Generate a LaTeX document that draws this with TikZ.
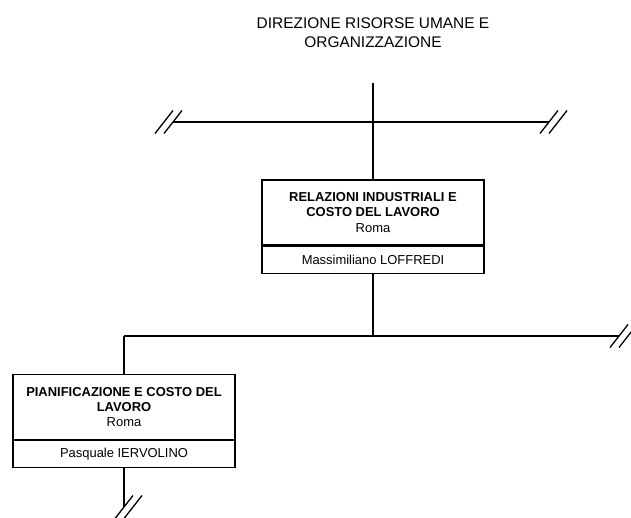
\documentclass[tikz,border=0pt]{standalone}
\usepackage{fontspec}
\setmainfont{Liberation Sans}
\usetikzlibrary{positioning}

\begin{document}
\begin{tikzpicture}[x=1bp, y=-1bp,
  title/.style={align=center, inner sep=0pt, font=\fontsize{15.5}{19}\selectfont},
  unit/.style={draw, line width=1.1bp, minimum width=222bp, minimum height=65bp,
               inner sep=0pt, align=center, font=\fontsize{13}{15.5}\selectfont},
  unitname/.style={draw, line width=1.1bp, minimum width=222bp, minimum height=27bp,
                   inner sep=0pt, font=\fontsize{13}{15.5}\selectfont},
  link/.style={line width=1.6bp},
  cut/.pic={\draw[line width=1.3bp] (-9,11.5) -- (9,-11.5);
            \draw[line width=1.3bp] (0,11.5) -- (18,-11.5);}]

\useasboundingbox (0,0) rectangle (631,518);

% --- Top: direction ---
\node[title] (dir) at (373,33) {DIREZIONE RISORSE UMANE E\\ORGANIZZAZIONE};
\coordinate (top) at (373,83);
\coordinate (busAw) at (173,122);
\coordinate (busAe) at (549,122);

% --- Relazioni industriali ---
\node[unit] (rel) at (373,212.5)
     {\textbf{RELAZIONI INDUSTRIALI E}\\\textbf{COSTO DEL LAVORO}\\Roma};
\node[unitname, below=0pt of rel] (relname) {Massimiliano LOFFREDI};

\coordinate (busB) at (373,336);
\coordinate (busBw) at (124,336);
\coordinate (busBe) at (619,336);

% --- Pianificazione ---
\node[unit] (pian) at (124,407)
     {\textbf{PIANIFICAZIONE E COSTO DEL}\\\textbf{LAVORO}\\Roma};
\node[unitname, below=0pt of pian] (pianname) {Pasquale IERVOLINO};
\coordinate (down) at (124,507);

% Connectors
\draw[link] (top) -- (rel.north);
\draw[link] (busAw) -- (busAe);
\draw[link] (relname.south) -- (busB);
\draw[link] (busBw) -- (busBe);
\draw[link] (busBw) -- (pian.north);
\draw[link] (pianname.south) -- (down);

% Breaks
\pic at (164,122) {cut};
\pic at (busAe) {cut};
\pic at (busBe) {cut};
\pic at (down) {cut};

\end{tikzpicture}
\end{document}
